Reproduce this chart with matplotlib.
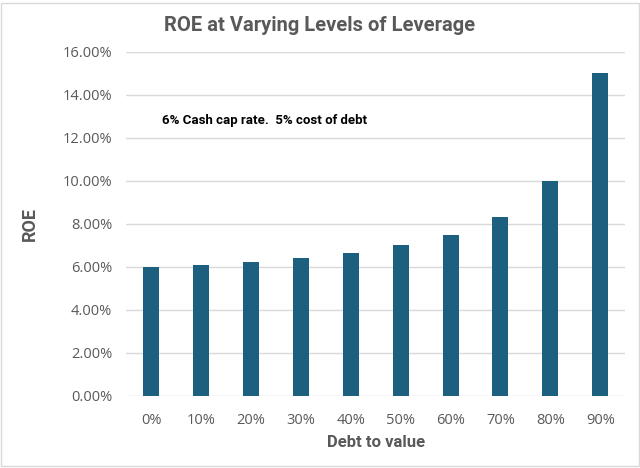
import numpy as np
import matplotlib.pyplot as plt
from matplotlib.ticker import PercentFormatter
from matplotlib.patches import Rectangle

debt_to_value = ["0%", "10%", "20%", "30%", "40%", "50%", "60%", "70%", "80%", "90%"]
roe = [0.0600, 0.0611, 0.0625, 0.0643, 0.0667, 0.0700, 0.0750, 0.0833, 0.1000, 0.1500]
yticks = [0.00, 0.02, 0.04, 0.06, 0.08, 0.10, 0.12, 0.14, 0.16]

plt.rcParams['font.family'] = ['Roboto', 'DejaVu Sans']
bar_color = "#1C5F7E"
text_gray = "#595959"

fig = plt.figure(figsize=(6.4, 4.68), dpi=100)
ax = fig.add_axes([0.197, 0.154, 0.78, 0.735])

x = np.arange(len(debt_to_value))
ax.bar(x, roe, width=0.32, color=bar_color, zorder=3)

ax.set_xlim(-0.5, len(x) - 0.5)
ax.set_ylim(0, 0.16)
ax.set_yticks(yticks)
ax.yaxis.set_major_formatter(PercentFormatter(1.0, decimals=2))
ax.set_xticks(x)
ax.set_xticklabels(debt_to_value)
ax.tick_params(axis='both', length=0, labelsize=10.5, colors=text_gray, labelfontfamily='Open Sans')
ax.tick_params(axis='x', pad=12)
ax.tick_params(axis='y', pad=10)
ax.grid(axis='y', color="#D9D9D9", linewidth=1, zorder=0)
for s in ax.spines.values():
    s.set_visible(False)

ax.set_xlabel("Debt to value", fontsize=12, fontweight='bold', color=text_gray, labelpad=5)
ax.set_ylabel("ROE", fontsize=13, fontweight='bold', color=text_gray)
ax.yaxis.set_label_coords(-0.175, 0.5)
fig.text(0.5, 0.945, "ROE at Varying Levels of Leverage", ha='center', va='center',
         fontsize=14.5, fontweight='bold', color=text_gray)
fig.text(0.253, 0.743, "6% Cash cap rate.  5% cost of debt", ha='left', va='center',
         fontsize=9.5, fontweight='bold', color='black')

fig.patches.append(Rectangle((0.002, 0.004), 0.996, 0.99, transform=fig.transFigure,
                             fill=False, edgecolor="#D9D9D9", linewidth=1))

fig.savefig("out.png", dpi=100)
